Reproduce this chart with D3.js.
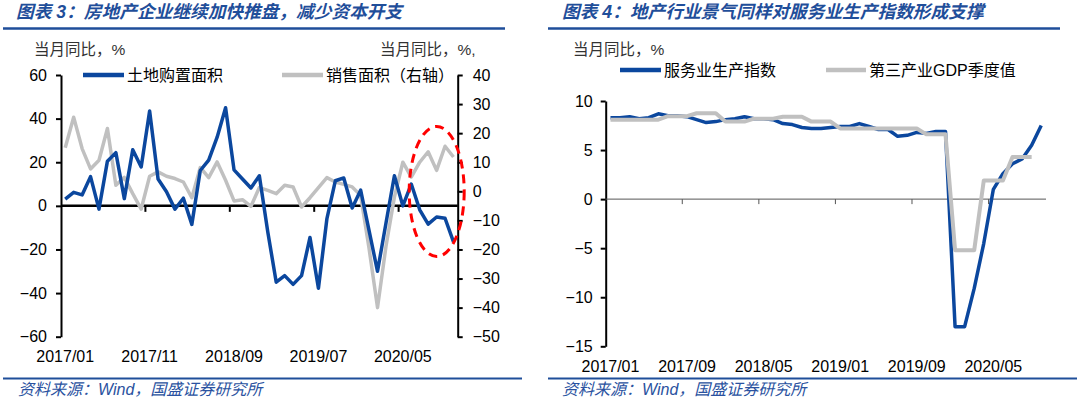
<!DOCTYPE html>
<html><head><meta charset="utf-8">
<script src="https://cdn.jsdelivr.net/npm/d3@7"></script>
<style>body{margin:0;background:#fff;} svg{display:block;}</style>
</head><body><svg id="c" width="1080" height="398"></svg>
<script>
// ---------------- DATA ----------------
const leftCategories = ["2017/01","2017/02","2017/03","2017/04","2017/05","2017/06","2017/07","2017/08","2017/09","2017/10","2017/11","2017/12",
"2018/01","2018/02","2018/03","2018/04","2018/05","2018/06","2018/07","2018/08","2018/09","2018/10","2018/11","2018/12",
"2019/01","2019/02","2019/03","2019/04","2019/05","2019/06","2019/07","2019/08","2019/09","2019/10","2019/11","2019/12",
"2020/01","2020/02","2020/03","2020/04","2020/05","2020/06","2020/07","2020/08","2020/09","2020/10","2020/11"];
const landPurchase = [3.1,6.2,5.0,13.4,-1.5,20.5,24.4,3.3,25.7,17.8,43.5,12.3,6.5,-1.5,3.5,-8.5,16.2,21,31.5,45,16.5,12.3,8.2,13.8,-12,-35,-32,-36,-32,-14.5,-37.8,-6,11.5,12.8,-1,7.2,-11.4,-30,-8,13.8,0,10,-1.8,-8.4,-5.1,-5.7,-16.5];
const salesArea = [15,25.5,14.7,7.7,10.7,21.6,2.1,4.8,-0.8,-6.1,5.2,6.7,5.2,4.4,3.2,-2.2,8.2,4.7,10.1,3.8,-3.3,-2.9,-5.2,1.3,0.3,-0.8,2.1,1.5,-5.4,-2.2,1.3,4.7,3.2,2.4,1.5,-1.4,-19.7,-40,-19,-2,10,4.9,10,13.6,7.2,15.5,11.8];
const leftTicks = [60,40,20,0,-20,-40,-60];
const rightAxisTicks = [40,30,20,10,0,-10,-20,-30,-40,-50];
const leftXLabels = ["2017/01","2017/11","2018/09","2019/07","2020/05"];

const rightCategories = leftCategories.slice(0, 46);
const servicesIndex = [8.3,8.3,8.4,8.2,8.3,8.7,8.5,8.5,8.4,8.1,7.8,7.9,8.1,8.2,8.4,8.2,8.2,8.1,7.7,7.6,7.3,7.2,7.2,7.3,7.4,7.4,7.7,7.4,7.1,7.1,6.4,6.5,6.8,6.7,6.9,6.9,-13,-13,-9.1,-4.5,1.0,2.6,3.6,4.1,5.5,7.5];
const tertiaryGDP = [8.1,8.1,8.1,8.1,8.1,8.1,8.45,8.45,8.45,8.75,8.75,8.75,7.9,7.9,7.9,8.2,8.2,8.2,8.4,8.4,8.4,7.9,7.9,7.9,7.2,7.2,7.2,7.2,7.2,7.2,7.2,7.2,7.2,6.6,6.6,6.6,-5.2,-5.2,-5.2,1.9,1.9,1.9,4.3,4.3,4.3];
const rightTicks = [10,5,0,-5,-10,-15];
const rightXLabels = ["2017/01","2017/09","2018/05","2019/01","2019/09","2020/05"];

// ---------------- STYLE ----------------
const FONT = "'Liberation Sans','Noto Sans CJK SC',Arial,sans-serif";
const BLUE = "#0b479e";
const GRAY = "#c0c0c0";
const TITLE_BLUE = "#1f4e9a";

const svg = d3.select("#c");
svg.append("rect").attr("width",1080).attr("height",398).attr("fill","#fff");

function header(x0, x1, tx, title, footX){
  svg.append("text").attr("x",tx).attr("y",18).attr("font-family",FONT).attr("font-size",17.7)
    .attr("font-weight","bold").attr("font-style","italic").attr("fill",TITLE_BLUE).text(title);
  svg.append("line").attr("x1",x0).attr("x2",x1).attr("y1",28.5).attr("y2",28.5)
    .attr("stroke",TITLE_BLUE).attr("stroke-width",2.5);
}
function footer(x0, x1, tx){
  svg.append("line").attr("x1",x0).attr("x2",x1).attr("y1",378.5).attr("y2",378.5)
    .attr("stroke",TITLE_BLUE).attr("stroke-width",2);
  svg.append("text").attr("x",tx).attr("y",395).attr("font-family",FONT).attr("font-size",16)
    .attr("font-style","italic").attr("fill","#2a52a0").text("资料来源：Wind，国盛证券研究所");
}
function styleAxis(g){
  g.attr("font-family",FONT).attr("font-size",16);
  g.select(".domain").attr("stroke","#000").attr("stroke-width",2);
  g.selectAll(".tick line").attr("stroke","#000").attr("stroke-width",2);
  g.selectAll(".tick text").attr("fill","#000");
}
function legendItem(x0, x1, y, color, label){
  svg.append("line").attr("x1",x0).attr("x2",x1).attr("y1",y).attr("y2",y)
    .attr("stroke",color).attr("stroke-width",4.5);
  svg.append("text").attr("x",x1+3).attr("y",y).attr("dy","0.36em").attr("font-family",FONT)
    .attr("font-size",16).attr("fill","#000").text(label);
}

// ================= LEFT CHART =================
header(3, 505, 16, "图表 3：房地产企业继续加快推盘，减少资本开支");
footer(3, 522, 18);
svg.append("text").attr("x",34).attr("y",55).attr("font-family",FONT).attr("font-size",15.5).attr("fill","#333").text("当月同比，%");
svg.append("text").attr("x",380).attr("y",55).attr("font-family",FONT).attr("font-size",15.5).attr("fill","#333").text("当月同比，%,");

const xL = d3.scaleBand().domain(leftCategories).range([61, 457.7]).padding(0);
const yL = d3.scaleLinear().domain([-60,60]).range([336.7,75]);
const yR = d3.scaleLinear().domain([-50,40]).range([336.7,75]);
const bwL = xL.bandwidth();

const gLA = svg.append("g").attr("transform","translate(61,0)")
  .call(d3.axisLeft(yL).tickValues(leftTicks).tickSize(5).tickSizeOuter(0).tickPadding(9));
styleAxis(gLA);
const gRA = svg.append("g").attr("transform","translate(457.7,0)")
  .call(d3.axisRight(yR).tickValues(rightAxisTicks).tickSize(5).tickSizeOuter(0).tickPadding(10));
styleAxis(gRA);

svg.append("line").attr("x1",61).attr("x2",457.7).attr("y1",yL(0)).attr("y2",yL(0))
  .attr("stroke","#000").attr("stroke-width",2.5);
leftXLabels.forEach(l=>{
  const x0 = xL(l);
  if (x0 > 62) svg.append("line").attr("x1",x0).attr("x2",x0).attr("y1",yL(0)).attr("y2",yL(0)+6)
     .attr("stroke","#000").attr("stroke-width",2);
  svg.append("text").attr("x",x0+bwL/2).attr("y",361.5).attr("text-anchor","middle")
    .attr("font-family",FONT).attr("font-size",16).attr("fill","#000").text(l);
});

const lineSales = d3.line().x((d,i)=>xL(leftCategories[i])+bwL/2).y(d=>yR(d));
const lineLand = d3.line().x((d,i)=>xL(leftCategories[i])+bwL/2).y(d=>yL(d));
svg.append("path").datum(salesArea).attr("d",lineSales).attr("fill","none")
  .attr("stroke",GRAY).attr("stroke-width",3.5).attr("stroke-linejoin","round");
svg.append("path").datum(landPurchase).attr("d",lineLand).attr("fill","none")
  .attr("stroke",BLUE).attr("stroke-width",3.5).attr("stroke-linejoin","round");

// annotation ellipse
svg.append("ellipse").attr("cx",436.7).attr("cy",191.5).attr("rx",27.5).attr("ry",65)
  .attr("fill","none").attr("stroke","#ff0000").attr("stroke-width",3).attr("stroke-dasharray","9 6");

legendItem(83, 124, 75, BLUE, "土地购置面积");
legendItem(282, 323, 75, GRAY, "销售面积（右轴）");

// ================= RIGHT CHART =================
header(548, 1060, 562, "图表 4：地产行业景气同样对服务业生产指数形成支撑");
footer(548, 1077, 562);
svg.append("text").attr("x",573).attr("y",55).attr("font-family",FONT).attr("font-size",15.5).attr("fill","#333").text("当月同比，%");

const x2 = d3.scaleBand().domain(rightCategories).range([605.7, 1046]).padding(0);
const y2 = d3.scaleLinear().domain([-15,10]).range([346.3,101]);
const bw2 = x2.bandwidth();

const g2 = svg.append("g").attr("transform","translate(605.7,0)")
  .call(d3.axisLeft(y2).tickValues(rightTicks).tickSize(5).tickSizeOuter(0).tickPadding(8));
styleAxis(g2);

svg.append("line").attr("x1",605.7).attr("x2",1046).attr("y1",y2(0)).attr("y2",y2(0))
  .attr("stroke","#555").attr("stroke-width",1);
rightXLabels.forEach(l=>{
  const x0 = x2(l);
  if (x0 > 607) svg.append("line").attr("x1",x0).attr("x2",x0).attr("y1",y2(0)).attr("y2",y2(0)+5)
     .attr("stroke","#555").attr("stroke-width",1);
  svg.append("text").attr("x",x0+bw2/2).attr("y",371.5).attr("text-anchor","middle")
    .attr("font-family",FONT).attr("font-size",16).attr("fill","#000").text(l);
});

const lineSvc = d3.line().x((d,i)=>x2(rightCategories[i])+bw2/2).y(d=>y2(d));
svg.append("path").datum(servicesIndex).attr("d",lineSvc).attr("fill","none")
  .attr("stroke",BLUE).attr("stroke-width",3.5).attr("stroke-linejoin","round");
svg.append("path").datum(tertiaryGDP).attr("d",lineSvc).attr("fill","none")
  .attr("stroke",GRAY).attr("stroke-width",4).attr("stroke-linejoin","round");

legendItem(620, 661, 70, BLUE, "服务业生产指数");
legendItem(826, 866, 70, GRAY, "第三产业GDP季度值");
</script></body></html>
